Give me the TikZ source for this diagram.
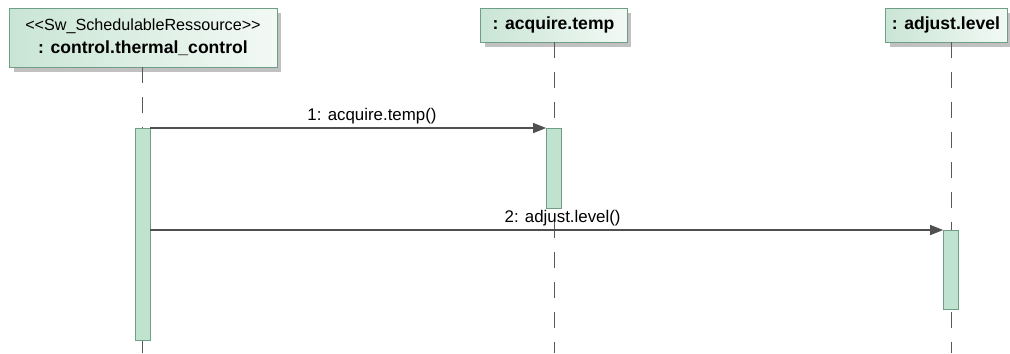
\documentclass[tikz,border=0pt]{standalone}
\usepackage{fontspec}
\setmainfont{Liberation Sans}
\usetikzlibrary{arrows.meta, shadows, positioning}

\definecolor{boxline}{HTML}{6F9E86}
\definecolor{boxleft}{HTML}{C9E5D5}
\definecolor{boxright}{HTML}{F2F9F5}
\definecolor{actfill}{HTML}{BFE3CF}
\definecolor{msgline}{HTML}{505050}

\tikzset{
  objbox/.style={draw=boxline, left color=boxleft, right color=boxright,
    drop shadow={shadow xshift=0.09cm, shadow yshift=-0.09cm, fill=black!35, opacity=0.7},
    inner sep=0pt, align=center, font=\fontsize{10}{12}\selectfont},
  actbar/.style={draw=boxline, fill=actfill, minimum width=0.3cm, inner sep=0pt, anchor=north},
  lifeline/.style={draw=black!65, dash pattern=on 0.32cm off 0.28cm},
  msg/.style={draw=msgline, thick, -{Triangle[length=0.26cm, width=0.2cm]}},
  msglabel/.style={font=\fontsize{9.6}{11}\selectfont, above, inner sep=2pt}
}

\begin{document}
\begin{tikzpicture}[x=0.02cm, y=-0.02cm]
    \useasboundingbox (0,0) rectangle (1010,353);

    % Lifeline heads
    \node[objbox, minimum width=5.36cm, minimum height=1.18cm] (ctrl) at (143,37.5)
        {{\fontsize{9.2}{11}\selectfont {<}{<}Sw\_SchedulableRessource{>}{>}}\\[1pt] \textbf{: control.thermal\_control}};
    \node[objbox, minimum width=2.94cm, minimum height=0.68cm] (acq) at (553.5,25)
        {\textbf{: acquire.temp}};
    \node[objbox, minimum width=2.44cm, minimum height=0.68cm] (adj) at (946,25)
        {\textbf{: adjust.level}};

    % Bottom ends of the lifelines
    \coordinate (end1) at (142.5,353);
    \coordinate (end2) at (554,353);
    \coordinate (end3) at (951,353);

    % Lifelines
    \draw[lifeline] (ctrl.south -| end1) -- (end1);
    \draw[lifeline] (acq.south -| end2) -- (end2);
    \draw[lifeline] (adj.south -| end3) -- (end3);

    % Activations
    \node[actbar, minimum height=4.24cm] (act1) at (142.5,128) {};
    \node[actbar, minimum height=1.6cm] (act2) at (554,128) {};
    \node[actbar, minimum height=1.58cm] (act3) at (951,230) {};

    % Messages
    \draw[msg] (act1.north east) -- node[msglabel, pos=0.56] {1: acquire.temp()} (act2.north west);
    \draw[msg] (act1.east |- act3.north west) -- node[msglabel, pos=0.52] {2: adjust.level()} (act3.north west);

\end{tikzpicture}
\end{document}
